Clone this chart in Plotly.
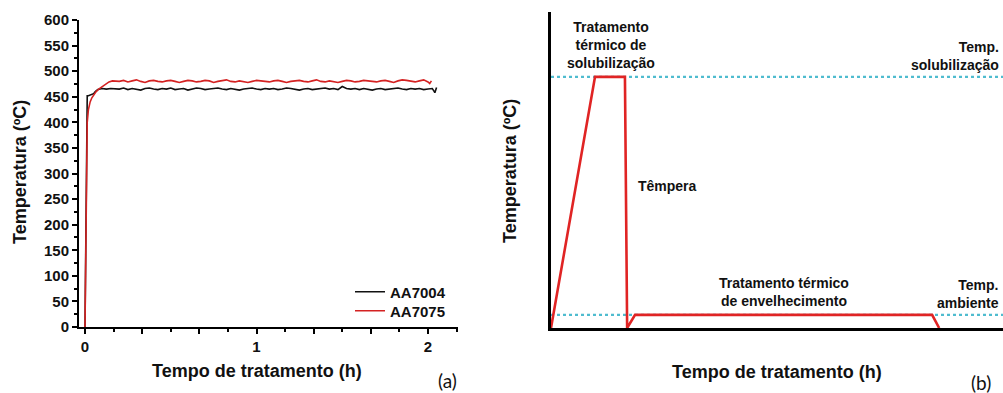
import plotly.graph_objects as go

# ---------------- Data: panel (a) ----------------
t_ramp_7004 = [0.0, 0.002, 0.004, 0.008, 0.013, 0.02, 0.03, 0.04, 0.05, 0.06, 0.075, 0.1, 0.125, 0.15]
v_ramp_7004 = [0, 70, 200, 380, 452, 452, 453, 454, 456, 460, 464, 466, 465, 466]

t_ramp_7075 = [0.0, 0.003, 0.006, 0.01, 0.013, 0.02, 0.03, 0.04, 0.05, 0.065, 0.08, 0.1, 0.12, 0.14, 0.16]
v_ramp_7075 = [0, 120, 260, 360, 400, 425, 440, 448, 453, 460, 465, 470, 475, 479, 481]

t_plateau = [0.175, 0.2, 0.225, 0.25, 0.275, 0.3, 0.325, 0.35, 0.375, 0.4,
             0.425, 0.45, 0.475, 0.5, 0.525, 0.55, 0.575, 0.6, 0.625, 0.65,
             0.675, 0.7, 0.725, 0.75, 0.775, 0.8, 0.825, 0.85, 0.875, 0.9,
             0.925, 0.95, 0.975, 1.0, 1.025, 1.05, 1.075, 1.1, 1.125, 1.15,
             1.175, 1.2, 1.225, 1.25, 1.275, 1.3, 1.325, 1.35, 1.375, 1.4,
             1.425, 1.45, 1.475, 1.5, 1.525, 1.55, 1.575, 1.6, 1.625, 1.65,
             1.675, 1.7, 1.725, 1.75, 1.775, 1.8, 1.825, 1.85, 1.875, 1.9,
             1.925, 1.95, 1.975, 2.0]

v_plateau_7004 = [466, 465, 467, 464, 466, 465, 463, 466, 467, 465,
                  464, 466, 465, 467, 464, 465, 466, 463, 465, 467,
                  466, 464, 465, 466, 467, 465, 464, 466, 465, 463,
                  465, 466, 467, 465, 464, 466, 465, 466, 464, 465,
                  467, 466, 465, 463, 465, 466, 464, 465, 466, 467,
                  465, 466, 464, 470, 466, 465, 466, 464, 466, 465,
                  463, 465, 466, 464, 465, 466, 467, 465, 464, 466,
                  465, 466, 464, 465]

v_plateau_7075 = [481, 480, 482, 479, 481, 483, 480, 478, 481, 482,
                  480, 479, 481, 482, 480, 478, 480, 482, 481, 479,
                  480, 482, 481, 478, 480, 481, 483, 480, 479, 481,
                  480, 478, 480, 482, 481, 480, 479, 481, 482, 480,
                  478, 480, 481, 482, 480, 479, 481, 483, 480, 479,
                  481, 480, 478, 480, 482, 481, 479, 480, 482, 481,
                  480, 479, 481, 482, 480, 478, 481, 483, 482, 480,
                  479, 481, 483, 479]

t_tail_7004 = [2.025, 2.035, 2.04, 2.05]
v_tail_7004 = [466, 461, 458, 468]
t_tail_7075 = [2.01, 2.02]
v_tail_7075 = [476, 481]

series_names = ["AA7004", "AA7075"]

x_tickvals = [0, 1/3, 2/3, 1, 4/3, 5/3, 2]
x_ticktext = ["0", "", "", "1", "", "", "2"]

# ---------------- Data: panel (b) (schematic) ----------------
sch_time = [0, 1.0, 1.68, 1.73, 1.91, 8.66, 8.82]
sch_temp = [0, 480, 480, 0, 25, 25, 0]
sol_temp = 480
amb_temp = 25
sch_xmax = 10.27
sch_ymax = 604

W, H = 1003, 393
def px(x):
    return x / W
def py(y):
    return 1 - y / H

BOLD = "Liberation Sans"
TXT = "#111111"

fig = go.Figure()

fig.add_trace(go.Scatter(
    x=t_ramp_7004 + t_plateau + t_tail_7004,
    y=v_ramp_7004 + v_plateau_7004 + v_tail_7004,
    mode="lines", name=series_names[0], legend="legend",
    line=dict(color="#111111", width=1.6),
    xaxis="x", yaxis="y"))
fig.add_trace(go.Scatter(
    x=t_ramp_7075 + t_plateau + t_tail_7075,
    y=v_ramp_7075 + v_plateau_7075 + v_tail_7075,
    mode="lines", name=series_names[1], legend="legend2",
    line=dict(color="#d42222", width=1.6),
    xaxis="x", yaxis="y"))

# schematic reference lines
fig.add_trace(go.Scatter(x=[0, sch_xmax], y=[sol_temp, sol_temp], mode="lines",
                         line=dict(color="#4fbccf", width=2.4, dash="dot"),
                         showlegend=False, xaxis="x2", yaxis="y2", hoverinfo="skip"))
fig.add_trace(go.Scatter(x=[0, sch_xmax], y=[amb_temp, amb_temp], mode="lines",
                         line=dict(color="#4fbccf", width=2.4, dash="dot"),
                         showlegend=False, xaxis="x2", yaxis="y2", hoverinfo="skip"))
fig.add_trace(go.Scatter(x=sch_time, y=sch_temp, mode="lines",
                         line=dict(color="#e02424", width=2.6),
                         showlegend=False, xaxis="x2", yaxis="y2", cliponaxis=False))

tickfont = dict(family=BOLD, size=15, color=TXT, weight="bold")
legfont = dict(family=BOLD, size=15, color=TXT, weight="bold")

fig.update_layout(
    template="none",
    width=W, height=H,
    margin=dict(l=0, r=0, t=0, b=0, pad=0),
    paper_bgcolor="white", plot_bgcolor="white",
    showlegend=True,
    legend=dict(x=px(350), y=py(292), xanchor="left", yanchor="middle",
                bgcolor="rgba(0,0,0,0)", borderwidth=0, font=legfont, itemwidth=30),
    legend2=dict(x=px(350), y=py(311), xanchor="left", yanchor="middle",
                 bgcolor="rgba(0,0,0,0)", borderwidth=0, font=legfont, itemwidth=30),
    xaxis=dict(domain=[px(79), px(458)], range=[-0.035, 2.175], anchor="y",
               automargin=False,
               showline=True, linecolor="black", linewidth=2,
               showgrid=False, zeroline=False,
               tickmode="array", tickvals=x_tickvals, ticktext=x_ticktext,
               ticks="outside", ticklen=5, tickwidth=2, tickcolor="black",
               minor=dict(dtick=1/6, tick0=0, ticks="outside", ticklen=3, tickwidth=2, tickcolor="black", showgrid=False),
               tickfont=tickfont),
    yaxis=dict(domain=[py(327), py(20)], range=[0, 600], anchor="x",
               automargin=False,
               showline=True, linecolor="black", linewidth=2,
               showgrid=False, zeroline=False,
               tickmode="linear", tick0=0, dtick=50,
               ticks="outside", ticklen=5, tickwidth=2, tickcolor="black",
               minor=dict(dtick=25, tick0=0, ticks="outside", ticklen=3, tickwidth=2, tickcolor="black", showgrid=False),
               tickfont=tickfont),
    xaxis2=dict(domain=[px(551), 1.0], range=[0, sch_xmax], anchor="y2",
                automargin=False,
                showline=True, linecolor="black", linewidth=2.5,
                showgrid=False, zeroline=False, showticklabels=False, ticks=""),
    yaxis2=dict(domain=[py(328), py(12)], range=[0, sch_ymax], anchor="x2",
                automargin=False,
                showline=True, linecolor="black", linewidth=2.5,
                showgrid=False, zeroline=False, showticklabels=False, ticks=""),
)

def ann(text, x, y, size=14, xanchor="center", align="center", angle=0, family=BOLD, weight="bold"):
    fig.add_annotation(text=text, x=px(x), y=py(y), xref="paper", yref="paper",
                       xanchor=xanchor, yanchor="middle", align=align, showarrow=False,
                       textangle=angle,
                       font=dict(family=family, size=size, color=TXT, weight=weight))

# axis titles panel (a)
ann("Temperatura (ºC)", 20, 172, size=18, angle=-90)
ann("Tempo de tratamento (h)", 257, 371, size=18)
ann("(a)", 447, 380, size=19, family="Lato", weight="normal")

# axis titles panel (b)
ann("Temperatura (ºC)", 510, 171, size=18, angle=-90)
ann("Tempo de tratamento (h)", 777, 372, size=18)
ann("(b)", 981, 382, size=19, family="Lato", weight="normal")

# schematic labels
ann("Tratamento<br>térmico de<br>solubilização", 611, 45, size=14)
ann("Têmpera", 667, 186, size=14)
ann("Tratamento térmico<br>de envelhecimento", 784, 292, size=14)
ann("Temp.<br>solubilização", 1001, 56, size=14, xanchor="right", align="right")
ann("Temp.<br>ambiente", 1001, 294, size=14, xanchor="right", align="right")

fig.write_html("out.html",
               config={"displayModeBar": False},
               post_script="document.body.style.margin='0';document.body.style.padding='0';document.documentElement.style.overflow='hidden';")
